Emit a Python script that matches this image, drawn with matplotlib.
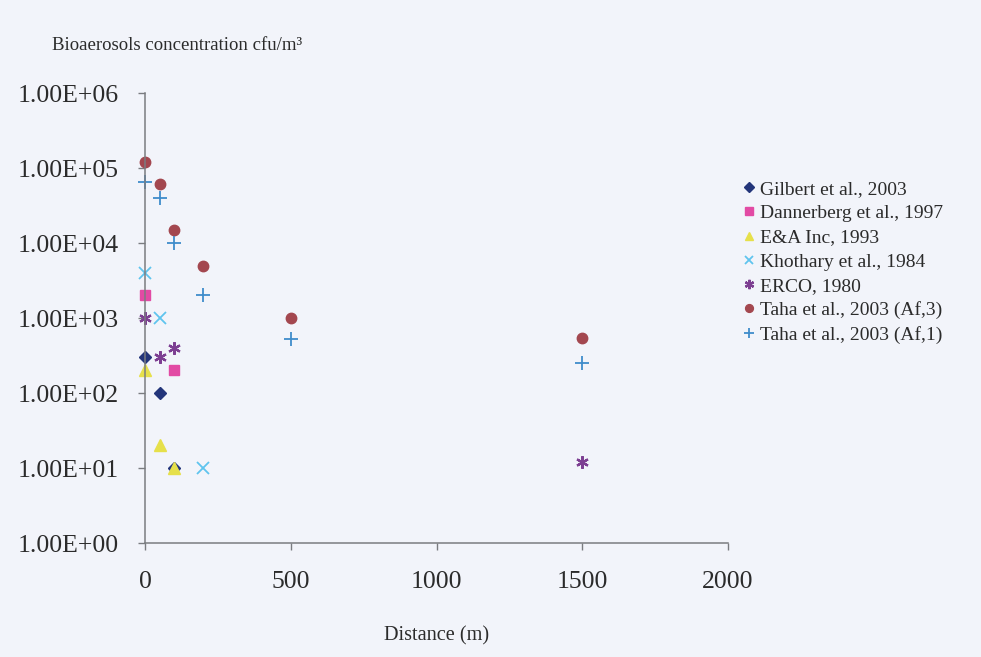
"""Bioaerosol concentration vs. distance, log-scale scatter with study legend."""

import matplotlib.pyplot as plt
from matplotlib.ticker import FixedLocator, FuncFormatter

plt.rcParams["font.family"] = ["Liberation Serif", "DejaVu Serif"]

# data (distance m, concentration cfu/m3)
gilbert_x = [0, 50, 100]
gilbert_y = [300, 100, 10]
dannerberg_x = [0, 100]
dannerberg_y = [2000, 200]
ea_x = [0, 50, 100]
ea_y = [200, 20, 10]
khothary_x = [0, 50, 200]
khothary_y = [4000, 1000, 10]
erco_x = [0, 50, 100, 1500]
erco_y = [1000, 300, 400, 12]
taha3_x = [0, 50, 100, 200, 500, 1500]
taha3_y = [120000, 62000, 15000, 5000, 1000, 540]
taha1_x = [0, 50, 100, 200, 500, 1500]
taha1_y = [66000, 40000, 10000, 2000, 520, 250]

series_labels = [
    "Gilbert et al., 2003",
    "Dannerberg et al., 1997",
    "E&A Inc, 1993",
    "Khothary et al., 1984",
    "ERCO, 1980",
    "Taha et al., 2003 (Af,3)",
    "Taha et al., 2003 (Af,1)",
]
x_ticks = [0, 500, 1000, 1500, 2000]
y_ticks = [1e0, 1e1, 1e2, 1e3, 1e4, 1e5, 1e6]

background = "#f2f4fa"
text_color = "#2b2b2b"
fig = plt.figure(figsize=(9.81, 6.57), dpi=100, facecolor=background)
ax = fig.add_axes([0.1478, 0.1735, 0.5944, 0.6849], facecolor=background)

styles = [
    (gilbert_x, gilbert_y, "D", "#23357a", 6.5, 0),
    (dannerberg_x, dannerberg_y, "s", "#e24aa4", 7.5, 0),
    (ea_x, ea_y, "^", "#e6e04a", 8, 0),
    (khothary_x, khothary_y, "x", "#5fc4ee", 8, 1.3),
    (erco_x, erco_y, (6, 2, 0), "#7d3f92", 9, 1.6),
    (taha3_x, taha3_y, "o", "#a3474f", 7.5, 0),
    (taha1_x, taha1_y, "+", "#3f8ccb", 10, 1.3),
]
for (xs, ys, marker, color, size, edge), label in zip(styles, series_labels):
    if edge:
        ax.plot(xs, ys, linestyle="none", marker=marker, color=color,
                markersize=size, markeredgewidth=edge, label=label, clip_on=False)
    else:
        ax.plot(xs, ys, linestyle="none", marker=marker, color=color,
                markeredgecolor=color, markersize=size, label=label, clip_on=False)

ax.set_yscale("log")
ax.set_xlim(0, 2000)
ax.set_ylim(1, 1e6)
ax.xaxis.set_major_locator(FixedLocator(x_ticks))
ax.yaxis.set_major_locator(FixedLocator(y_ticks))
ax.yaxis.set_minor_locator(FixedLocator([]))
ax.yaxis.set_major_formatter(FuncFormatter(lambda v, _: f"{v:.2E}"))

for side in ("top", "right"):
    ax.spines[side].set_visible(False)
for side in ("left", "bottom"):
    ax.spines[side].set_color("#7a7c80")
    ax.spines[side].set_linewidth(1.1)
ax.tick_params(axis="both", colors="#7a7c80", length=5, width=1.0,
               labelcolor=text_color, labelsize=18.5)
ax.tick_params(axis="x", pad=15)
ax.tick_params(axis="y", pad=14)

ax.set_xlabel("Distance (m)", fontsize=14.6, color=text_color, labelpad=24)
fig.text(0.053, 0.93, "Bioaerosols concentration cfu/m³", fontsize=13.5,
         color=text_color, va="center", ha="left")

ax.legend(loc="upper left", bbox_to_anchor=(0.993, 0.845), frameon=False,
          fontsize=14, handletextpad=0.15, labelspacing=0.34,
          handlelength=0.8, labelcolor=text_color, markerscale=0.75)

fig.savefig("out.png", dpi=100, facecolor=background)
